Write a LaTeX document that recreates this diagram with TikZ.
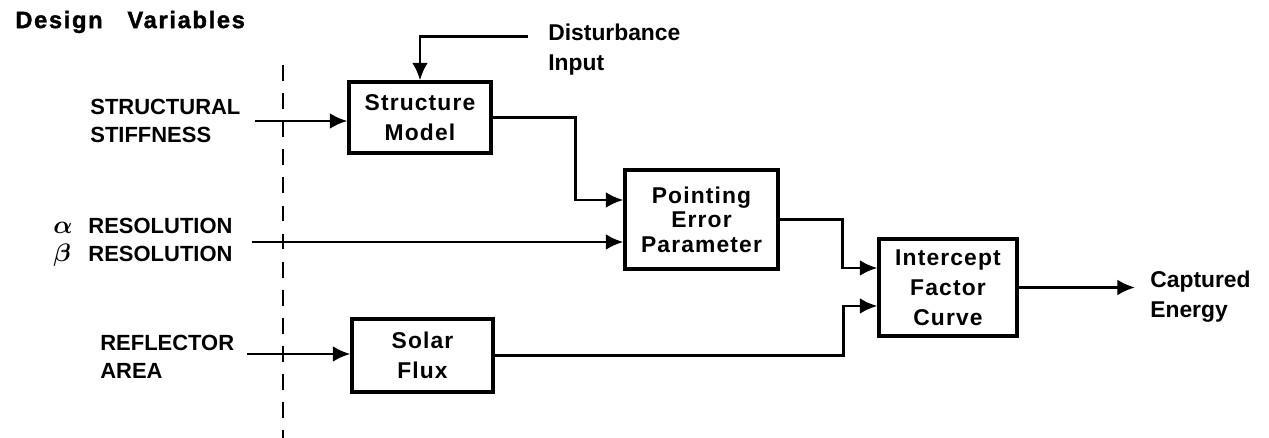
\documentclass[tikz,border=0pt]{standalone}
\usepackage{fontspec}
\setmainfont{Liberation Sans}
\usepackage{bm}
\usetikzlibrary{positioning,calc,arrows.meta}

\newcommand{\grk}[1]{\makebox[20pt][l]{\Large$\bm{#1}$}}

\begin{document}
\begin{tikzpicture}[
  x=0.02cm, y=-0.02cm,
  varlabel/.style={anchor=west, align=left, inner sep=0pt, font=\bfseries\fontsize{12.5}{16}\selectfont},
  outlabel/.style={anchor=west, align=left, inner sep=0pt, font=\bfseries\fontsize{13}{17}\selectfont},
  block/.style={draw, line width=1.8pt, align=center, inner sep=0pt,
    font=\bfseries\fontsize{13}{17}\selectfont\addfontfeature{LetterSpace=5}},
  link/.style={line width=1.7pt, -{Latex[length=10pt,width=9pt]}},
  divider/.style={line width=1.5pt, dash pattern=on 9pt off 7pt}
]

\useasboundingbox (0,0) rectangle (1269,438);

% blocks
\node[block, minimum width=2.84cm, minimum height=1.42cm] (struct) at (420,117.5) {Structure\\Model};
\node[block, minimum width=3.06cm, minimum height=1.98cm,
      font=\bfseries\fontsize{13}{14}\selectfont\addfontfeature{LetterSpace=5}] (point) at (701.5,219.5) {Pointing\\Error\\Parameter};
\node[block, minimum width=2.82cm, minimum height=1.46cm] (solar) at (422.5,355.5) {Solar\\Flux};
\node[block, minimum width=2.76cm, minimum height=1.94cm] (inter) at (948,287.5) {Intercept\\Factor\\Curve};

% labels
\node[outlabel, font=\bfseries\fontsize{13.5}{17}\selectfont\addfontfeature{LetterSpace=7,FakeBold=1.5}] (title) at (15,22) {Design\ \ \ Variables};
\node[varlabel] (stiff) at (90,121) {STRUCTURAL\\STIFFNESS};
\node[varlabel] (reso) at (53,242.5) {\grk{\alpha}RESOLUTION\\\grk{\beta}RESOLUTION};
\node[varlabel] (refl) at (100,356.5) {REFLECTOR\\AREA};
\node[outlabel] (dist) at (548,50) {Disturbance\\Input};
\node[outlabel] (capt) at (1150,297) {Captured\\Energy};

% free ends
\coordinate (stiffin) at (255,121);
\coordinate (resoin) at (252,242);
\coordinate (reflin) at (247,354);
\coordinate (distin) at (528,37);
\coordinate (energyout) at (1135,287.5);
\coordinate (divtop) at (283,65);
\coordinate (divbot) at (283,438);

\draw[divider] (divtop) -- (divbot);

\draw[link] (stiffin) -- (stiffin -| struct.west);
\draw[link] (resoin) -- (resoin -| point.west);
\draw[link] (reflin) -- (reflin -| solar.west);
\draw[link] (distin) -| (struct.north);

\draw[link] (struct.east) -| ($(point.west)+(-48,-19.5)$) -- ($(point.west)+(0,-19.5)$);
\draw[link] (point.east) -| ($(inter.west)+(-35,-19.5)$) -- ($(inter.west)+(0,-19.5)$);
\draw[link] (solar.east) -| ($(inter.west)+(-34,18.5)$) -- ($(inter.west)+(0,18.5)$);
\draw[link] (inter.east) -- (energyout);

\end{tikzpicture}
\end{document}
